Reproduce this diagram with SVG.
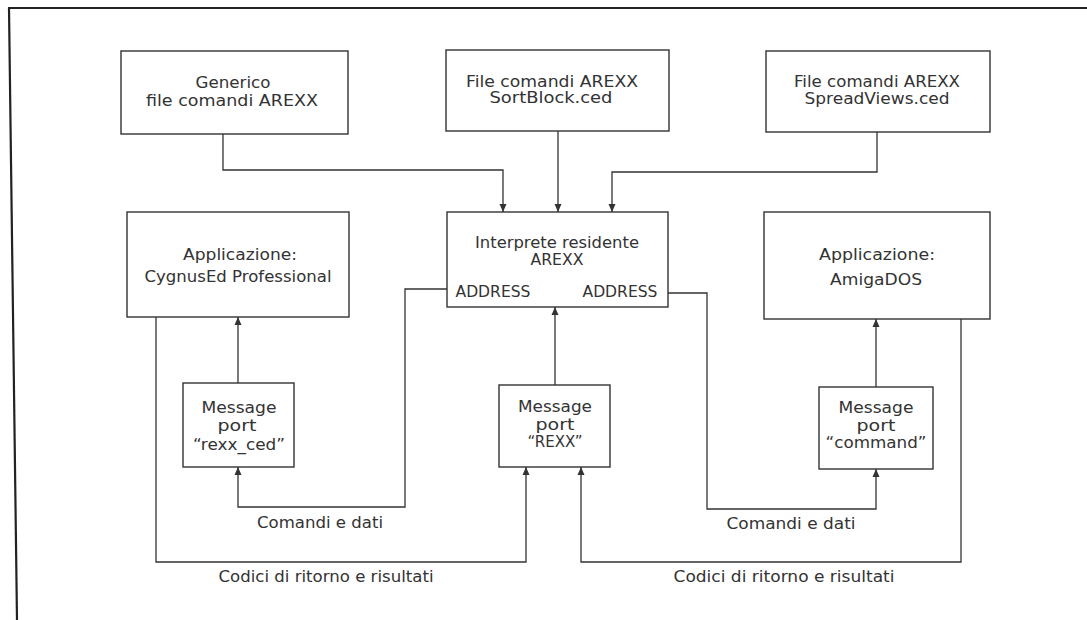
<svg xmlns="http://www.w3.org/2000/svg" width="1087" height="620" viewBox="0 0 1087 620">
<style>
.box{fill:none;stroke:#333;stroke-width:1.4}
.con{fill:none;stroke:#333;stroke-width:1.3}
text{font-family:"DejaVu Sans","Liberation Sans",sans-serif;font-size:15px;fill:#333;text-anchor:middle}
</style>
<defs>
<marker id="arr" markerUnits="userSpaceOnUse" markerWidth="8" markerHeight="8" refX="8" refY="4" orient="auto">
<path d="M0,0.5 L8,4 L0,7.5 z" fill="#333"/>
</marker>
</defs>
<rect width="1087" height="620" fill="#fff"/>
<g id="frame">
<line x1="8" y1="8" x2="1087" y2="8" stroke="#222" stroke-width="2.2"/>
<line x1="9" y1="8" x2="17" y2="620" stroke="#222" stroke-width="2.2"/>
</g>
<g id="generico">
<rect class="box" x="121" y="51" width="227" height="83"/>
<text x="233" y="88" textLength="75" lengthAdjust="spacingAndGlyphs">Generico</text>
<text x="232" y="106" textLength="172" lengthAdjust="spacingAndGlyphs">file comandi AREXX</text>
</g>
<g id="sortblock">
<rect class="box" x="446" y="50" width="223" height="81"/>
<text x="552" y="87" textLength="172" lengthAdjust="spacingAndGlyphs">File comandi AREXX</text>
<text x="551" y="103" textLength="123" lengthAdjust="spacingAndGlyphs">SortBlock.ced</text>
</g>
<g id="spreadviews">
<rect class="box" x="766" y="51" width="224" height="81"/>
<text x="877" y="87" textLength="166" lengthAdjust="spacingAndGlyphs">File comandi AREXX</text>
<text x="877" y="104" textLength="145" lengthAdjust="spacingAndGlyphs">SpreadViews.ced</text>
</g>
<g id="interprete">
<rect class="box" x="447" y="212" width="221" height="95"/>
<text x="557" y="248" textLength="164" lengthAdjust="spacingAndGlyphs">Interprete residente</text>
<text x="557" y="265" textLength="53" lengthAdjust="spacingAndGlyphs">AREXX</text>
<text x="493" y="297" textLength="75" lengthAdjust="spacingAndGlyphs">ADDRESS</text>
<text x="620" y="297" textLength="75" lengthAdjust="spacingAndGlyphs">ADDRESS</text>
</g>
<g id="cygnused">
<rect class="box" x="127" y="212" width="222" height="105"/>
<text x="240" y="260" textLength="114" lengthAdjust="spacingAndGlyphs">Applicazione:</text>
<text x="238" y="282" textLength="187" lengthAdjust="spacingAndGlyphs">CygnusEd Professional</text>
</g>
<g id="amigados">
<rect class="box" x="764" y="212" width="226" height="107"/>
<text x="877" y="260" textLength="116" lengthAdjust="spacingAndGlyphs">Applicazione:</text>
<text x="876" y="285" textLength="92" lengthAdjust="spacingAndGlyphs">AmigaDOS</text>
</g>
<g id="port-rexx-ced">
<rect class="box" x="183" y="383" width="111" height="84"/>
<text x="239" y="413" textLength="75" lengthAdjust="spacingAndGlyphs">Message</text>
<text x="237" y="431" textLength="39" lengthAdjust="spacingAndGlyphs">port</text>
<text x="239" y="450" textLength="92" lengthAdjust="spacingAndGlyphs">“rexx_ced”</text>
</g>
<g id="port-rexx">
<rect class="box" x="499" y="385" width="111" height="82"/>
<text x="555" y="412" textLength="74" lengthAdjust="spacingAndGlyphs">Message</text>
<text x="555" y="430" textLength="39" lengthAdjust="spacingAndGlyphs">port</text>
<text x="555" y="447">“REXX”</text>
</g>
<g id="port-command">
<rect class="box" x="819" y="387" width="114" height="82"/>
<text x="876" y="413" textLength="75" lengthAdjust="spacingAndGlyphs">Message</text>
<text x="876" y="431" textLength="39" lengthAdjust="spacingAndGlyphs">port</text>
<text x="876" y="448" textLength="101" lengthAdjust="spacingAndGlyphs">“command”</text>
</g>
<g id="connectors">
<path class="con" d="M223 134 V170 H503 V212" marker-end="url(#arr)"/>
<path class="con" d="M558 131 V212" marker-end="url(#arr)"/>
<path class="con" d="M877 132 V172 H612 V212" marker-end="url(#arr)"/>
<path class="con" d="M238 383 V317" marker-end="url(#arr)"/>
<path class="con" d="M555 385 V307" marker-end="url(#arr)"/>
<path class="con" d="M876 387 V319" marker-end="url(#arr)"/>
<path class="con" d="M447 289 H405 V507 H238 V467" marker-end="url(#arr)"/>
<path class="con" d="M668 293 H707 V509 H876 V469" marker-end="url(#arr)"/>
<path class="con" d="M156 317 V562 H526 V467" marker-end="url(#arr)"/>
<path class="con" d="M961 319 V562 H581 V467" marker-end="url(#arr)"/>
</g>
<g id="labels">
<text x="320" y="528" textLength="126" lengthAdjust="spacingAndGlyphs">Comandi e dati</text>
<text x="791" y="529" textLength="129" lengthAdjust="spacingAndGlyphs">Comandi e dati</text>
<text x="326" y="582" textLength="215" lengthAdjust="spacingAndGlyphs">Codici di ritorno e risultati</text>
<text x="784" y="582" textLength="221" lengthAdjust="spacingAndGlyphs">Codici di ritorno e risultati</text>
</g>
</svg>
